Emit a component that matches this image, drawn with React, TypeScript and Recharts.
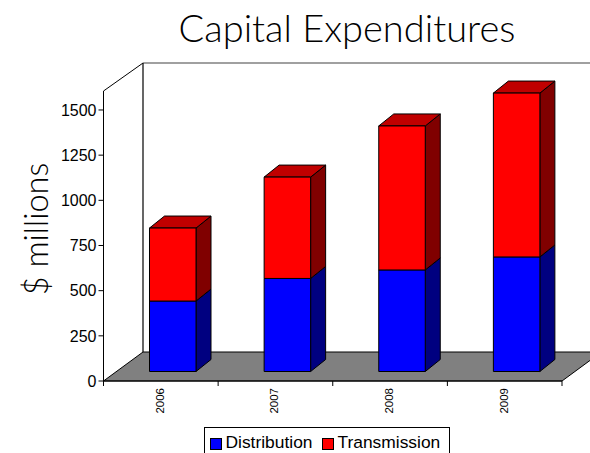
import { BarChart, Bar, XAxis, YAxis, Legend } from 'recharts';

const years = ['2006', '2007', '2008', '2009'];
const distribution = [390, 515, 562, 634];
const transmission = [404, 561, 797, 907];
const yTicks = [0, 250, 500, 750, 1000, 1250, 1500];

const chartData = years.map((year, i) => ({
  year,
  distribution: distribution[i],
  transmission: transmission[i],
}));

const axisFont = '"Liberation Sans", Arial, sans-serif';
const titleFont = 'Lato, sans-serif';

// plot area, front of the 3d box
const left = 103.5;
const right = 562;
const top = 91;
const bottom = 381;
const band = (right - left) / years.length;

// wall depth, and how far the bars sit behind the front edge
const depthX = 39.5;
const depthY = 29;
const barShiftX = 12;
const barShiftY = -9.5;
const sideX = 15;
const sideY = 12;

function Box3D(props: any) {
  const { x, y, width, height, fill, sideFill, topFill } = props;
  const x0 = x + barShiftX;
  const y0 = y + barShiftY;
  const x1 = x0 + width;
  const y1 = y0 + height;
  return (
    <g stroke="#000" strokeWidth={1} strokeLinejoin="round">
      <path d={`M${x1},${y0} L${x1 + sideX},${y0 - sideY} L${x1 + sideX},${y1 - sideY} L${x1},${y1} Z`} fill={sideFill} />
      {topFill && (
        <path d={`M${x0},${y0} L${x0 + sideX},${y0 - sideY} L${x1 + sideX},${y0 - sideY} L${x1},${y0} Z`} fill={topFill} />
      )}
      <rect x={x0} y={y0} width={width} height={height} fill={fill} />
    </g>
  );
}

function Walls() {
  const backX = left + depthX;
  const backTop = top - depthY + 1;
  const backBottom = bottom - depthY;
  return (
    <g>
      <path
        d={`M${left},${bottom} L${backX},${backBottom} L${right + depthX},${backBottom} L${right},${bottom} Z`}
        fill="#808080"
        stroke="#000"
        strokeWidth={1}
      />
      <line x1={backX} y1={backTop} x2={590} y2={backTop} stroke="#808080" strokeWidth={1.5} />
      <line x1={backX} y1={backTop} x2={backX} y2={backBottom} stroke="#000" strokeWidth={1.2} />
      <line x1={left} y1={top} x2={backX} y2={backTop} stroke="#000" strokeWidth={1} />
    </g>
  );
}

function YearTick(props: any) {
  const { x, y, payload, index } = props;
  const edge = x + band / 2;
  return (
    <g>
      {index === 0 && <line x1={left} y1={bottom} x2={left} y2={bottom + 5} stroke="#000" />}
      <line x1={edge} y1={bottom} x2={edge} y2={bottom + 5} stroke="#000" />
      <text
        x={x - 1}
        y={y - 1}
        transform={`rotate(-90 ${x - 1} ${y - 1})`}
        textAnchor="end"
        dominantBaseline="central"
        fontSize={11.5}
        fontFamily={axisFont}
        fill="#000"
      >
        {payload.value}
      </text>
    </g>
  );
}

function LegendBox({ payload }: any) {
  return (
    <div
      style={{
        boxSizing: 'border-box',
        width: 246,
        height: 34,
        border: '1px solid #000',
        background: '#fff',
        display: 'flex',
        alignItems: 'flex-start',
        paddingLeft: 5,
        paddingTop: 4,
        fontFamily: axisFont,
        fontSize: 17.4,
        color: '#000',
      }}
    >
      {(payload || []).map((item: any) => (
        <div key={item.value} style={{ display: 'flex', alignItems: 'center', marginRight: 9 }}>
          <span
            style={{
              boxSizing: 'border-box',
              display: 'inline-block',
              width: 12,
              height: 12,
              marginRight: 4,
              marginTop: 2,
              background: item.color,
              border: '1px solid #000',
            }}
          />
          {item.value}
        </div>
      ))}
    </div>
  );
}

export default function App() {
  return (
    <div style={{ position: 'absolute', left: 0, top: 0, width: 590, height: 453, overflow: 'hidden', background: '#fff' }}>
      <BarChart
        width={590}
        height={453}
        data={chartData}
        margin={{ top, right: 590 - right, bottom: 0, left: left - 60 }}
      >
        <Walls />
        <text x={347} y={42} textAnchor="middle" fontSize={38} fontWeight={300} fontFamily={titleFont} fill="#000">
          Capital Expenditures
        </text>
        <text
          x={35}
          y={229}
          transform="rotate(-90 35 229)"
          textAnchor="middle"
          dominantBaseline="central"
          fontSize={32.5}
          fontWeight={300}
          fontFamily={titleFont}
          fill="#000"
        >
          $ millions
        </text>
        <XAxis
          dataKey="year"
          axisLine={{ stroke: '#000' }}
          tickLine={false}
          interval={0}
          tick={<YearTick />}
          height={453 - bottom}
        />
        <YAxis
          width={60}
          domain={[0, 1605]}
          ticks={yTicks}
          interval={0}
          axisLine={{ stroke: '#000' }}
          tickLine={{ stroke: '#000' }}
          tickSize={5}
          tick={{ fontSize: 16, fontFamily: axisFont, fill: '#000' }}
        />
        <Legend
          layout="horizontal"
          verticalAlign="middle"
          content={<LegendBox />}
          wrapperStyle={{ left: 203.5, top: 427, width: 246, height: 34, bottom: 'auto', right: 'auto' }}
        />
        <Bar
          dataKey="distribution"
          name="Distribution"
          stackId="a"
          fill="#0000ff"
          barSize={46.5}
          isAnimationActive={false}
          shape={<Box3D sideFill="#000080" />}
        />
        <Bar
          dataKey="transmission"
          name="Transmission"
          stackId="a"
          fill="#ff0000"
          barSize={46.5}
          isAnimationActive={false}
          shape={<Box3D sideFill="#800000" topFill="#c00000" />}
        />
      </BarChart>
    </div>
  );
}
